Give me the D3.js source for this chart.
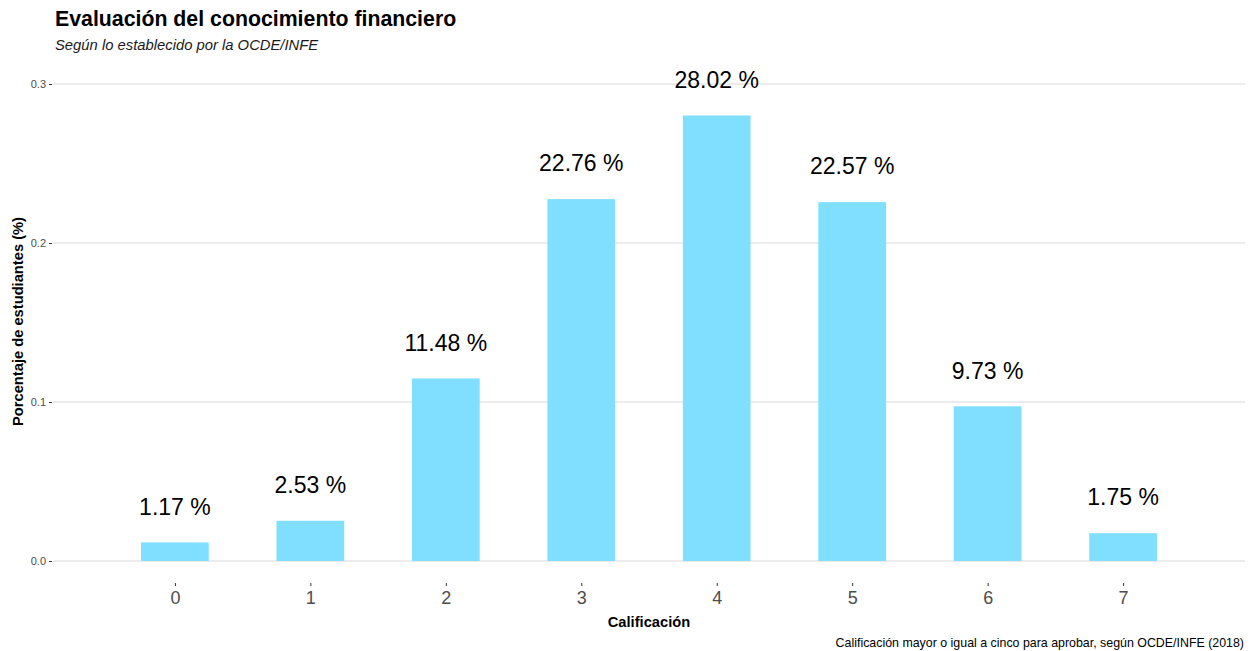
<!DOCTYPE html>
<html>
<head>
<meta charset="utf-8">
<script src="https://cdn.jsdelivr.net/npm/d3@7"></script>
<style>
html,body{margin:0;padding:0;background:#fff;}
svg{display:block;font-family:"Liberation Sans",Arial,sans-serif;}
</style>
</head>
<body>
<svg id="chart" width="1254" height="651"></svg>
<script>
const categories = [0, 1, 2, 3, 4, 5, 6, 7];
const values = [0.0117, 0.0253, 0.1148, 0.2276, 0.2802, 0.2257, 0.0973, 0.0175];
const valueLabels = ["1.17 %", "2.53 %", "11.48 %", "22.76 %", "28.02 %", "22.57 %", "9.73 %", "1.75 %"];
const yTicks = [0.0, 0.1, 0.2, 0.3];
const yTickLabels = ["0.0", "0.1", "0.2", "0.3"];

const svg = d3.select("#chart");
const panel = {left: 53, right: 1245, top: 60, bottom: 583};

const x = d3.scaleLinear().domain([-0.9, 7.9]).range([panel.left, panel.right]);
const y = d3.scaleLinear().domain([0, 0.3]).range([561, 84]);
const barW = 0.5;

// gridlines
svg.append("g").selectAll("line").data(yTicks).join("line")
  .attr("x1", panel.left).attr("x2", panel.right)
  .attr("y1", d => y(d)).attr("y2", d => y(d))
  .attr("stroke", "#d9d9d9").attr("stroke-width", 1.1);

// y axis
const yAxis = d3.axisLeft(y).tickValues(yTicks).tickSize(3).tickPadding(3)
  .tickFormat((d, i) => yTickLabels[i]);
const yg = svg.append("g").attr("transform", `translate(${panel.left - 1},0)`).call(yAxis);
yg.select(".domain").remove();
yg.selectAll(".tick line").attr("stroke", "#333").attr("stroke-width", 1);
yg.selectAll(".tick text").attr("fill", "#4d4d4d").style("font-size", "11px")
  .style("font-family", "'Liberation Sans', Arial, sans-serif");

// x axis
const xAxis = d3.axisBottom(x).tickValues(categories).tickSize(3).tickPadding(5)
  .tickFormat(d => String(d));
const xg = svg.append("g").attr("transform", `translate(0,${panel.bottom})`).call(xAxis);
xg.select(".domain").remove();
xg.selectAll(".tick line").attr("stroke", "#333").attr("stroke-width", 1);
xg.selectAll(".tick text").attr("fill", "#4d4d4d").style("font-size", "18px")
  .style("font-family", "'Liberation Sans', Arial, sans-serif");

// bars
svg.append("g").selectAll("rect").data(categories).join("rect")
  .attr("x", (d) => x(d - barW / 2))
  .attr("width", x(barW) - x(0))
  .attr("y", (d, i) => y(values[i]))
  .attr("height", (d, i) => y(0) - y(values[i]))
  .attr("fill", "#80dfff");

// value labels
svg.append("g").selectAll("text").data(categories).join("text")
  .attr("x", d => x(d))
  .attr("y", (d, i) => y(values[i] + 0.0225))
  .attr("text-anchor", "middle")
  .attr("dominant-baseline", "central")
  .attr("fill", "#000")
  .style("font-size", "23px")
  .text((d, i) => valueLabels[i]);

// titles
svg.append("text").attr("x", 55).attr("y", 26)
  .style("font-size", "21.3px").style("font-weight", "bold").attr("fill", "#000")
  .text("Evaluación del conocimiento financiero");
svg.append("text").attr("x", 55).attr("y", 50)
  .style("font-size", "14.8px").style("font-style", "italic").attr("fill", "#1a1a1a")
  .text("Según lo establecido por la OCDE/INFE");

// axis titles
svg.append("text").attr("x", (panel.left + panel.right) / 2).attr("y", 627)
  .attr("text-anchor", "middle").style("font-size", "14.7px").style("font-weight", "bold")
  .attr("fill", "#000").text("Calificación");
svg.append("text")
  .attr("transform", `translate(23,${(panel.top + panel.bottom) / 2}) rotate(-90)`)
  .attr("text-anchor", "middle").style("font-size", "14.7px").style("font-weight", "bold")
  .attr("fill", "#000").text("Porcentaje de estudiantes (%)");

// caption
svg.append("text").attr("x", 1244).attr("y", 647)
  .attr("text-anchor", "end").style("font-size", "12.4px").attr("fill", "#000")
  .text("Calificación mayor o igual a cinco para aprobar, según OCDE/INFE (2018)");
</script>
</body>
</html>
